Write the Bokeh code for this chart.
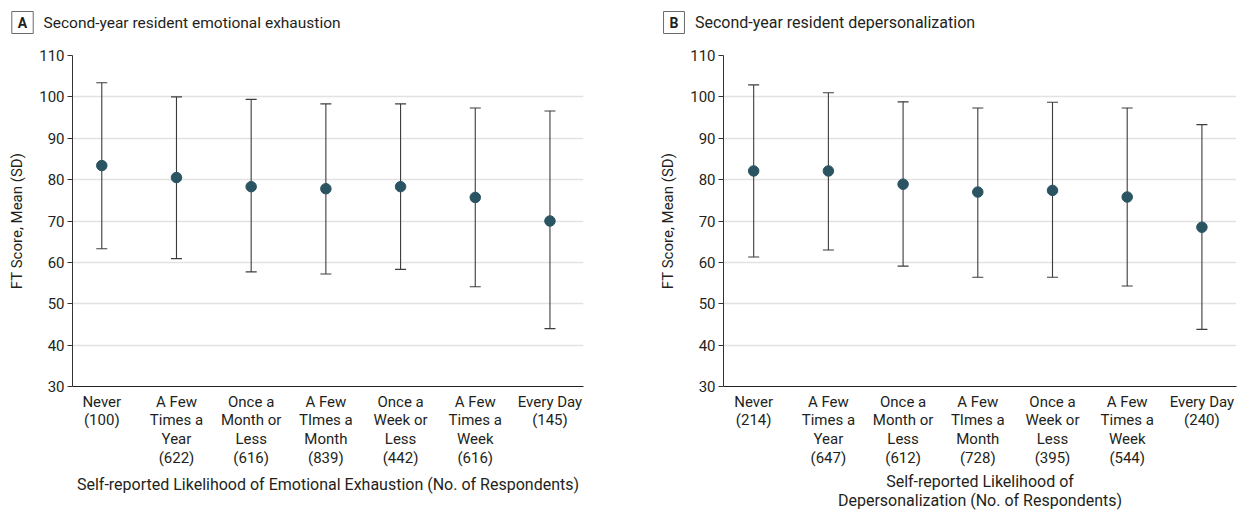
from bokeh.plotting import figure
from bokeh.models import ColumnDataSource, Whisker, TeeHead, FixedTicker, Label, Range1d
from bokeh.layouts import row, column
from bokeh.embed import file_html
from bokeh.resources import INLINE

# ---------------- data ----------------
categories_a = ["Never\n(100)", "A Few\nTimes a\nYear\n(622)", "Once a\nMonth or\nLess\n(616)",
                "A Few\nTImes a\nMonth\n(839)", "Once a\nWeek or\nLess\n(442)",
                "A Few\nTimes a\nWeek\n(616)", "Every Day\n(145)"]
mean_a = [83.4, 80.5, 78.3, 77.8, 78.3, 75.7, 70.0]
upper_a = [103.4, 100.0, 99.4, 98.3, 98.3, 97.3, 96.6]
lower_a = [63.3, 60.9, 57.7, 57.2, 58.3, 54.1, 44.0]

categories_b = ["Never\n(214)", "A Few\nTimes a\nYear\n(647)", "Once a\nMonth or\nLess\n(612)",
                "A Few\nTImes a\nMonth\n(728)", "Once a\nWeek or\nLess\n(395)",
                "A Few\nTimes a\nWeek\n(544)", "Every Day\n(240)"]
mean_b = [82.1, 82.1, 78.9, 77.0, 77.4, 75.8, 68.5]
upper_b = [102.9, 101.0, 98.8, 97.3, 98.7, 97.3, 93.3]
lower_b = [61.3, 63.0, 59.1, 56.4, 56.4, 54.3, 43.8]

y_ticks = [30, 40, 50, 60, 70, 80, 90, 100, 110]

panel_letters = ["A", "B"]
panel_titles = ["Second-year resident emotional exhaustion",
                "Second-year resident depersonalization"]

FONT = "Roboto"
TXT = "#231f20"
DOT = "#2b5462"
BAR = "#3c3c3c"


def make_panel(cats, mean, upper, lower, xlabel, width,
               mb_left, mb_right, x_start, x_end, xl_standoff, xl_lh):
    xs = list(range(len(cats)))
    src = ColumnDataSource(dict(x=xs, mean=mean, upper=upper, lower=lower))
    p = figure(width=width, height=470, output_backend="svg", toolbar_location=None,
               x_range=Range1d(x_start, x_end), y_range=Range1d(30, 110),
               min_border_left=mb_left, min_border_right=mb_right,
               min_border_top=11, min_border_bottom=128)
    p.outline_line_color = None
    p.background_fill_color = "white"
    p.border_fill_color = "white"

    p.xgrid.visible = False
    p.ygrid.grid_line_color = "#e2e2e2"
    p.ygrid.grid_line_width = 1.3
    p.ygrid.ticker = FixedTicker(ticks=y_ticks)

    # y axis
    p.yaxis.ticker = FixedTicker(ticks=y_ticks)
    p.yaxis.axis_label = "FT Score, Mean (SD)"
    p.yaxis.axis_label_text_font = FONT
    p.yaxis.axis_label_text_font_size = "15px"
    p.yaxis.axis_label_text_font_style = "normal"
    p.yaxis.axis_label_text_color = TXT
    p.yaxis.axis_label_standoff = 10
    p.yaxis.major_label_text_font = FONT
    p.yaxis.major_label_text_font_size = "15px"
    p.yaxis.major_label_text_color = TXT
    p.yaxis.major_label_standoff = 3
    p.yaxis.major_tick_out = 5
    p.yaxis.major_tick_in = 0
    p.yaxis.minor_tick_line_color = None
    p.yaxis.axis_line_color = "#333333"
    p.yaxis.major_tick_line_color = "#333333"

    # x axis
    p.xaxis.ticker = FixedTicker(ticks=xs)
    p.xaxis.major_label_overrides = {i: c for i, c in zip(xs, cats)}
    p.xaxis.major_label_text_font = FONT
    p.xaxis.major_label_text_font_size = "15px"
    p.xaxis.major_label_text_color = TXT
    p.xaxis.major_label_text_line_height = 1.05
    p.xaxis.major_label_standoff = 6
    p.xaxis.major_tick_out = 0
    p.xaxis.major_tick_in = 0
    p.xaxis.minor_tick_line_color = None
    p.xaxis.axis_line_color = "#222222"
    p.xaxis.axis_line_width = 1.2
    p.xaxis.axis_label = xlabel
    p.xaxis.axis_label_text_font = FONT
    p.xaxis.axis_label_text_font_size = "16px"
    p.xaxis.axis_label_text_font_style = "normal"
    p.xaxis.axis_label_text_color = TXT
    p.xaxis.axis_label_text_line_height = xl_lh
    p.xaxis.axis_label_standoff = xl_standoff

    w = Whisker(base="x", upper="upper", lower="lower", source=src, dimension="height",
                line_color=BAR, line_width=1.1,
                upper_head=TeeHead(size=11, line_color=BAR, line_width=1.1),
                lower_head=TeeHead(size=11, line_color=BAR, line_width=1.1))
    p.add_layout(w)
    p.scatter("x", "mean", source=src, size=10.5, fill_color=DOT, line_color=DOT)
    return p


# header strip holding the panel letters and titles (pixel-unit coordinates)
hdr = figure(width=1242, height=44, output_backend="svg", toolbar_location=None,
             x_range=Range1d(0, 1242), y_range=Range1d(44, 0),
             x_axis_location=None, y_axis_location=None,
             min_border_left=0, min_border_right=0, min_border_top=0, min_border_bottom=0)
hdr.outline_line_color = None
hdr.grid.visible = False
hdr.background_fill_color = "white"
hdr.border_fill_color = "white"
for letter, title, bx, fs in zip(panel_letters, panel_titles, [22, 673.5], ["15.5px", "16px"]):
    hdr.add_layout(Label(x=bx, y=22, text=letter, text_font=FONT, text_font_size="14px",
                         text_font_style="bold", text_color=TXT, text_align="center",
                         text_baseline="middle", border_line_color="#6a6a6a",
                         border_line_width=1, background_fill_color="white",
                         padding=dict(left=6, right=6, top=3, bottom=3)))
    hdr.add_layout(Label(x=bx + 21, y=22, text=title, text_font=FONT, text_font_size=fs,
                         text_color=TXT, text_align="left", text_baseline="middle"))

pa = make_panel(categories_a, mean_a, upper_a, lower_a,
                "Self-reported Likelihood of Emotional Exhaustion (No. of Respondents)",
                640, 72, 57, -0.392, 6.449, 5, 1.1)
pb = make_panel(categories_b, mean_b, upper_b, lower_b,
                "Self-reported Likelihood of\nDepersonalization (No. of Respondents)",
                602, 83, 6, -0.404, 6.463, 2, 1.0)

layout = column(hdr, row(pa, pb))
open("out.html", "w").write(file_html(layout, INLINE))
